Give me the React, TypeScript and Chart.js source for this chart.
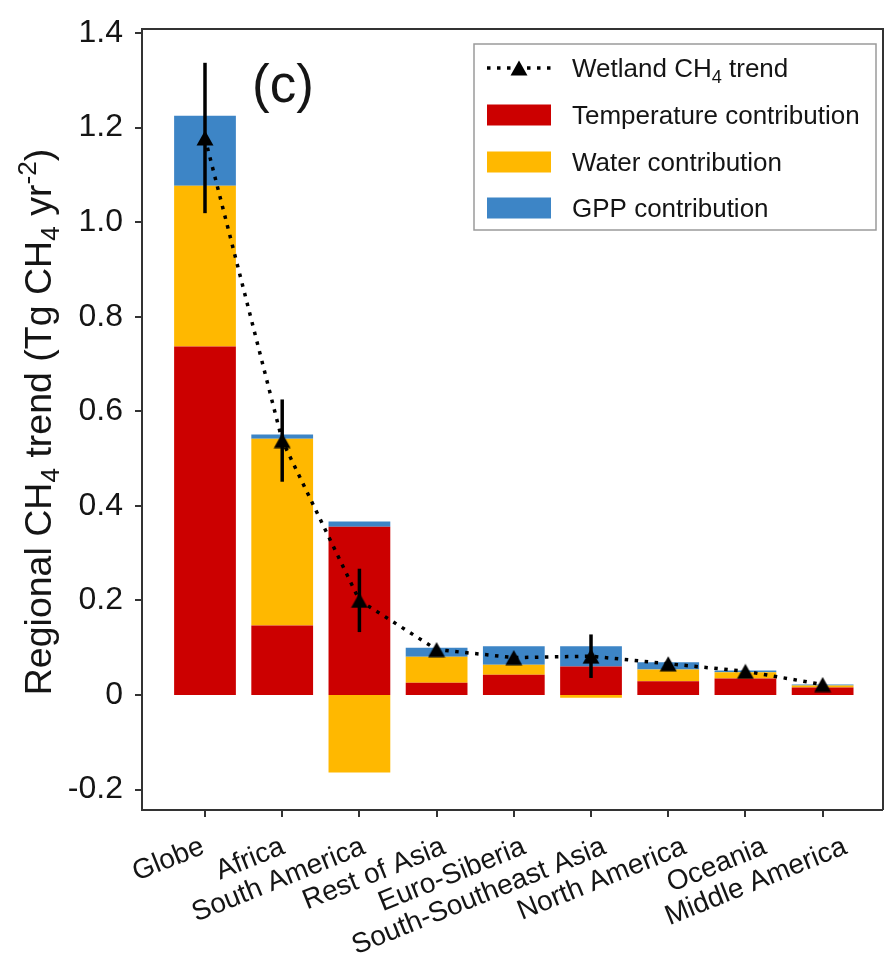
import React, { useEffect, useRef } from 'react';
import { Chart, registerables } from 'chart.js';

Chart.register(...registerables);

// ---------------- data ----------------
const categories = [
  'Globe',
  'Africa',
  'South America',
  'Rest of Asia',
  'Euro-Siberia',
  'South-Southeast Asia',
  'North America',
  'Oceania',
  'Middle America',
];
const temperatureContribution = [0.737, 0.147, 0.356, 0.026, 0.043, 0.06, 0.029, 0.035, 0.016];
const waterContribution = [0.34, 0.395, -0.164, 0.055, 0.021, -0.006, 0.025, 0.013, 0.004];
const gppContribution = [0.148, 0.009, 0.011, 0.019, 0.039, 0.043, 0.015, 0.004, 0.002];
const wetlandTrend = [1.178, 0.538, 0.2, 0.096, 0.079, 0.082, 0.066, 0.05, 0.022];
const trendError = [0.159, 0.087, 0.067, 0, 0, 0.046, 0, 0, 0];
const yTicks = [-0.2, 0, 0.2, 0.4, 0.6, 0.8, 1.0, 1.2, 1.4];

const seriesNames = ['Temperature contribution', 'Water contribution', 'GPP contribution'];
const trendLegendParts = [
  { t: 'Wetland CH', k: 'n' },
  { t: '4', k: 'sub' },
  { t: ' trend', k: 'n' },
];
const yTitleParts = [
  { t: 'Regional CH', k: 'n' },
  { t: '4', k: 'sub' },
  { t: ' trend (Tg CH', k: 'n' },
  { t: '4', k: 'sub' },
  { t: ' yr', k: 'n' },
  { t: '-2', k: 'sup' },
  { t: ')', k: 'n' },
];
const panelLabel = '(c)';

// ---------------- style ----------------
const FONT = '"Liberation Sans", Arial, Helvetica, sans-serif';
const RED = '#CC0000';
const ORANGE = '#FFB800';
const BLUE = '#3D85C6';
const AXIS = '#333333';
const TEXT = '#151515';
const X_LABEL_ROT = 22;
const X_LABEL_SPREAD = 1.04;

function makeTriangle(): HTMLCanvasElement {
  const c = document.createElement('canvas');
  c.width = 18;
  c.height = 16;
  const g = c.getContext('2d')!;
  g.fillStyle = '#000';
  g.beginPath();
  g.moveTo(9, 0.5);
  g.lineTo(17.5, 15.5);
  g.lineTo(0.5, 15.5);
  g.closePath();
  g.fill();
  return c;
}

type Part = { t: string; k: string };

function richWidth(ctx: CanvasRenderingContext2D, parts: Part[], size: number) {
  let w = 0;
  for (const p of parts) {
    const s = p.k === 'n' ? size : size * 0.7;
    ctx.font = `${s}px ${FONT}`;
    w += ctx.measureText(p.t).width;
  }
  return w;
}

function drawRich(ctx: CanvasRenderingContext2D, parts: Part[], x: number, y: number, size: number) {
  let cx = x;
  ctx.textBaseline = 'alphabetic';
  ctx.textAlign = 'left';
  for (const p of parts) {
    const s = p.k === 'n' ? size : size * 0.7;
    ctx.font = `${s}px ${FONT}`;
    let dy = 0;
    if (p.k === 'sub') dy = size * 0.22;
    if (p.k === 'sup') dy = -size * 0.4;
    ctx.fillText(p.t, cx, y + dy);
    cx += ctx.measureText(p.t).width;
  }
}

export default function App() {
  const ref = useRef<HTMLCanvasElement | null>(null);

  useEffect(() => {
    if (!ref.current) return;
    const tri = makeTriangle();

    const decorations = {
      id: 'decorations',
      afterDatasetsDraw(chart: any) {
        const ctx = chart.ctx as CanvasRenderingContext2D;
        const xs = chart.scales.x;
        const ys = chart.scales.y;
        // error bars
        ctx.save();
        ctx.strokeStyle = '#000';
        ctx.lineWidth = 3.5;
        wetlandTrend.forEach((v, i) => {
          const e = trendError[i];
          if (!e) return;
          const px = xs.getPixelForValue(i);
          ctx.beginPath();
          ctx.moveTo(px, ys.getPixelForValue(v + e));
          ctx.lineTo(px, ys.getPixelForValue(v - e));
          ctx.stroke();
        });
        ctx.restore();
      },
      afterDraw(chart: any) {
        const ctx = chart.ctx as CanvasRenderingContext2D;
        const a = chart.chartArea;
        const xs = chart.scales.x;
        ctx.save();
        // frame (top & right)
        ctx.strokeStyle = AXIS;
        ctx.lineWidth = 2;
        ctx.beginPath();
        ctx.moveTo(a.left, a.top);
        ctx.lineTo(a.right, a.top);
        ctx.lineTo(a.right, a.bottom);
        ctx.stroke();

        // x tick labels (rotated, right-anchored near each tick)
        ctx.fillStyle = TEXT;
        ctx.font = `28px ${FONT}`;
        ctx.textAlign = 'right';
        ctx.textBaseline = 'alphabetic';
        const px0 = xs.getPixelForValue(0);
        categories.forEach((lab, i) => {
          const px = xs.getPixelForValue(i);
          const ax = px0 + (px - px0) * X_LABEL_SPREAD + 1;
          ctx.save();
          ctx.translate(ax, a.bottom + 43);
          ctx.rotate((-X_LABEL_ROT * Math.PI) / 180);
          ctx.fillText(lab, 0, 0);
          ctx.restore();
        });

        // panel label
        ctx.fillStyle = TEXT;
        ctx.font = `53px ${FONT}`;
        ctx.textAlign = 'left';
        ctx.textBaseline = 'alphabetic';
        ctx.fillText(panelLabel, 252, 102);

        // y axis title
        const size = 37.5;
        const w = richWidth(ctx, yTitleParts, size);
        ctx.save();
        ctx.translate(51, 422);
        ctx.rotate(-Math.PI / 2);
        ctx.fillStyle = TEXT;
        drawRich(ctx, yTitleParts, -w / 2, 0, size);
        ctx.restore();

        // legend
        const lx = 474, ly = 44, lw = 402, lh = 186;
        ctx.fillStyle = '#fff';
        ctx.fillRect(lx, ly, lw, lh);
        ctx.strokeStyle = '#9a9a9a';
        ctx.lineWidth = 1.5;
        ctx.strokeRect(lx, ly, lw, lh);
        const rows = [68, 115, 162, 208];
        const sx = 487, sw = 64;
        ctx.strokeStyle = '#000';
        ctx.lineWidth = 3.5;
        ctx.setLineDash([3.5, 6.5]);
        ctx.beginPath();
        ctx.moveTo(sx, rows[0]);
        ctx.lineTo(sx + sw, rows[0]);
        ctx.stroke();
        ctx.setLineDash([]);
        ctx.drawImage(tri, sx + sw / 2 - tri.width / 2, rows[0] - tri.height / 2);
        ctx.fillStyle = TEXT;
        drawRich(ctx, trendLegendParts, 572, rows[0] + 9, 26);
        const cols = [RED, ORANGE, BLUE];
        seriesNames.forEach((name, i) => {
          const ry = rows[i + 1];
          ctx.fillStyle = cols[i];
          ctx.fillRect(sx, ry - 10.5, sw, 21);
          ctx.fillStyle = TEXT;
          ctx.font = `26px ${FONT}`;
          ctx.textAlign = 'left';
          ctx.textBaseline = 'alphabetic';
          ctx.fillText(name, 572, ry + 9);
        });
        ctx.restore();
      },
    };

    const toXY = (arr: number[]) => arr.map((v, i) => ({ x: i, y: v }));

    const tickGrid = {
      display: true,
      drawOnChartArea: false,
      drawTicks: true,
      tickLength: 7,
      color: AXIS,
      lineWidth: 0,
      tickWidth: 2,
      tickColor: AXIS,
      offset: false,
    };

    const chart = new Chart(ref.current, {
      type: 'bar',
      data: {
        datasets: [
          {
            type: 'line',
            label: 'Wetland CH4 trend',
            data: toXY(wetlandTrend),
            borderColor: '#000',
            backgroundColor: '#000',
            borderWidth: 3.5,
            borderDash: [3.5, 6.5],
            pointStyle: tri as any,
            pointRadius: 9,
            fill: false,
            stack: 'trend',
            order: 0,
          } as any,
          {
            label: seriesNames[0],
            data: toXY(temperatureContribution),
            backgroundColor: RED,
            stack: 'bars',
            order: 1,
          },
          {
            label: seriesNames[1],
            data: toXY(waterContribution),
            backgroundColor: ORANGE,
            stack: 'bars',
            order: 1,
          },
          {
            label: seriesNames[2],
            data: toXY(gppContribution),
            backgroundColor: BLUE,
            stack: 'bars',
            order: 1,
          },
        ],
      },
      options: {
        animation: false,
        responsive: false,
        maintainAspectRatio: false,
        barPercentage: 0.8,
        categoryPercentage: 1.0,
        layout: { autoPadding: false, padding: { top: 29, right: 3, left: 0, bottom: 0 } },
        plugins: { legend: { display: false }, tooltip: { enabled: false } },
        scales: {
          x: {
            type: 'linear',
            min: -0.816,
            max: 8.782,
            offset: false,
            stacked: true,
            afterBuildTicks: (s: any) => {
              s.ticks = categories.map((_, i) => ({ value: i }));
            },
            afterFit: (s: any) => {
              s.height = 150;
              s.paddingLeft = 0;
              s.paddingRight = 0;
            },
            grid: tickGrid,
            border: { display: true, color: AXIS, width: 2 },
            ticks: { display: false, autoSkip: false },
          },
          y: {
            type: 'linear',
            min: -0.2433,
            max: 1.4085,
            stacked: true,
            afterBuildTicks: (s: any) => {
              s.ticks = yTicks.map((v) => ({ value: v }));
            },
            afterFit: (s: any) => {
              s.width = 142;
              s.paddingTop = 0;
              s.paddingBottom = 0;
            },
            grid: tickGrid,
            border: { display: true, color: AXIS, width: 2 },
            ticks: {
              padding: 12,
              color: TEXT,
              font: { family: FONT, size: 32 },
              callback: (v: any) => (Math.abs(v) < 1e-9 ? '0' : Number(v).toFixed(1)),
            },
          },
        },
      } as any,
      plugins: [decorations],
    });

    return () => chart.destroy();
  }, []);

  return (
    <div style={{ position: 'absolute', left: 0, top: 0, width: 886, height: 960, background: '#fff' }}>
      <canvas ref={ref} width={886} height={960} style={{ display: 'block', width: 886, height: 960 }} />
    </div>
  );
}
